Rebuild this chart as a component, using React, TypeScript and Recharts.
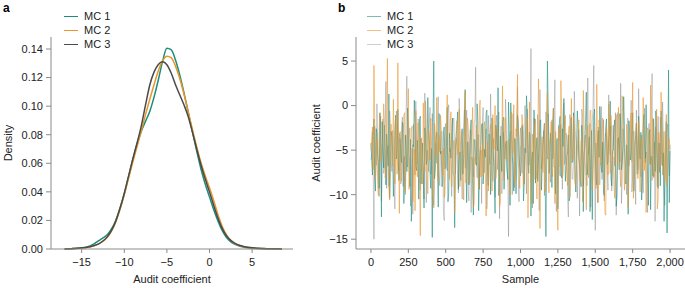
import { LineChart, Line, XAxis, YAxis } from "recharts"

// panel a: kernel density of the audit coefficient per chain
const densityX = [
  -17, -16.5, -16, -15.5, -15, -14.5, -14, -13.5, -13, -12.5, -12, -11.5, -11, -10.5, -10, -9.5, -9, -8.5,
  -8, -7.5, -7, -6.5, -6, -5.5, -5, -4.5, -4, -3.5, -3, -2.5, -2, -1.5, -1, -0.5, 0, 0.5, 1, 1.5, 2, 2.5,
  3, 3.5, 4, 4.5, 5, 5.5, 6, 6.5, 7, 7.5, 8, 8.5,
]
const mc1Density = [
  0.0, 0.0002, 0.0003, 0.0005, 0.0008, 0.0013, 0.0022, 0.0038, 0.0058, 0.0078, 0.01, 0.014, 0.02, 0.0285,
  0.0385, 0.0505, 0.0625, 0.0735, 0.0825, 0.0895, 0.0965, 0.1065, 0.1185, 0.1315, 0.1405, 0.1395, 0.1325,
  0.122, 0.1095, 0.096, 0.082, 0.0685, 0.056, 0.0455, 0.0365, 0.0275, 0.0195, 0.0128, 0.008, 0.005, 0.0032,
  0.0021, 0.0014, 0.0009, 0.0006, 0.0004, 0.0003, 0.0002, 0.0001, 0.0001, 0.0, 0.0,
]
const mc2Density = [
  0.0, 0.0001, 0.0003, 0.0005, 0.0007, 0.001, 0.0015, 0.0024, 0.0036, 0.0055, 0.008, 0.0125, 0.019, 0.0278,
  0.0382, 0.0495, 0.0608, 0.0718, 0.0828, 0.0942, 0.105, 0.1152, 0.1248, 0.1318, 0.135, 0.134, 0.1282,
  0.1195, 0.1085, 0.0962, 0.0835, 0.0715, 0.0605, 0.0512, 0.0428, 0.0338, 0.024, 0.0158, 0.0098, 0.006,
  0.0037, 0.0024, 0.0016, 0.0011, 0.0007, 0.0005, 0.0003, 0.0002, 0.0001, 0.0001, 0.0, 0.0,
]
const mc3Density = [
  0.0, 0.0001, 0.0003, 0.0005, 0.0008, 0.0011, 0.0016, 0.0024, 0.0036, 0.0056, 0.0085, 0.013, 0.0195, 0.0285,
  0.039, 0.051, 0.063, 0.0742, 0.0862, 0.101, 0.115, 0.124, 0.1292, 0.131, 0.129, 0.1232, 0.1152, 0.108,
  0.101, 0.0928, 0.0818, 0.07, 0.0588, 0.049, 0.04, 0.0305, 0.0215, 0.0143, 0.0092, 0.006, 0.0039, 0.0026,
  0.0018, 0.0012, 0.0008, 0.0006, 0.0004, 0.0003, 0.0002, 0.0001, 0.0001, 0.0,
]

// panel b: trace values read at samples 0, 10, ..., 2000
const traceStep = 10
const mc1Trace = [
  -4.2, -7.8, -1.5, -9.6, -3.1, -6.4, -0.8, -12.5, -5.3, -2.2, -8.9, -4.7, 1.3, -7.1, -3.6, -10.2, -2.8, -6.0, -0.4, -8.3,
  -5.5, -1.9, -11.0, -3.3, -7.4, -2.0, -9.1, -13.0, -4.4, 0.6, -6.8, -3.9, -10.5, -1.2, -5.9, -8.0, -2.5, -6.6, 0.9, -4.0,
  -9.3, -14.8, 5.0, -7.2, -3.0, -11.4, -1.0, -5.1, -8.6, -2.4, -6.9, -0.2, -9.8, -4.6, -2.9, -7.7, -13.7, -3.5, -0.7, -6.2,
  -8.4, -2.6, -5.8, 1.8, -10.9, -4.1, -7.0, -1.6, -9.0, -3.8, -6.3, 0.2, -11.8, -5.0, -2.1, -8.8, -4.9, -0.9, -7.5, -3.2,
  -10.0, -1.4, -6.1, -12.1, -3.4, 2.0, -8.1, -5.6, -1.8, -9.4, -4.3, -7.3, 0.4, -11.2, -2.7, -6.7, -3.7, -9.9, -1.1, -5.4,
  -7.9, -2.3, -10.7, -4.8, 1.1, -6.5, -3.0, -12.4, -5.2, -0.5, -8.7, -3.6, -6.0, -1.7, -9.5, -4.5, -2.0, -14.7, 5.0, -7.6,
  -3.1, -9.2, -0.3, -6.9, -4.2, -11.6, -1.9, -7.8, -2.6, 0.8, -8.5, -5.7, -3.3, -10.3, -1.3, -6.2, -4.0, -9.7, -0.6, -5.9,
  -8.2, -2.2, -11.9, -4.6, 1.5, -7.1, -3.5, -6.4, -12.8, -1.0, -5.3, -8.9, -2.8, -0.1, -7.0, -4.1, -10.1, -2.4, -6.6, -3.8,
  0.5, -9.0, -5.0, -1.6, -11.3, -3.9, -7.2, -2.1, -6.3, 1.0, -8.6, -4.4, -12.2, -2.9, -5.6, -0.8, -9.6, -3.4, -7.7, -1.2,
  -6.0, -10.6, -2.7, -4.9, 0.1, -8.0, -3.2, -11.7, -5.8, -1.5, -7.4, -2.5, -9.3, -4.3, -0.6, -6.8, -13.0, -3.6, -14.3, 4.0,
  -5.1,
]
const mc2Trace = [
  -5.0, -2.4, 4.5, -8.2, -3.7, -10.1, -0.9, -6.3, -4.1, -1.7, -7.6, 5.3, -9.4, -3.0, -5.8, 0.7, -8.8, -2.2, 4.8, -12.1,
  -4.5, -7.0, -1.1, -9.7, -3.5, 1.9, -6.1, -2.7, -10.8, -4.9, -0.6, -8.0, -3.3, -14.6, -5.6, 0.3, -7.4, -2.0, -9.9, -4.2,
  -1.4, -6.7, -11.5, -3.1, 0.9, -8.5, -5.2, -2.5, -7.8, -10.3, -3.9, 1.2, -6.0, -1.9, -9.1, -4.7, -12.0, -2.8, -5.5, -0.4,
  -7.3, -3.6, -10.6, 1.6, -5.9, -2.3, -8.7, -4.4, -0.2, -11.1, -6.5, -3.0, -9.3, 0.6, -5.1, -7.9, -1.8, -12.4, -4.0, -6.8,
  -2.1, -9.6, -4.8, 0.0, -7.2, -3.4, -11.3, -5.7, 2.2, -8.4, -1.3, -6.2, -3.8, -10.0, -0.7, -5.3, -8.9, -2.6, 3.5, -7.1,
  -4.6, -1.0, -9.0, -5.9, -2.9, -12.6, 0.4, -6.6, -3.2, -8.3, -1.5, -10.5, 3.0, -13.8, -4.3, -7.5, -2.0, -5.4, 1.4, -9.8,
  -3.7, -6.9, -0.3, -11.0, -5.0, -14.0, -2.4, 2.8, -8.1, -4.5, -1.1, -7.7, -3.3, -10.2, 0.8, -6.0, -2.8, -9.2, -5.2, -1.6,
  -8.6, -3.9, 1.7, -6.4, -11.7, -2.2, -5.5, -0.5, -9.5, -4.1, -7.0, 2.4, -10.9, -3.0, -6.3, -1.4, -8.0, -12.3, -4.6, 0.2,
  -7.6, -2.7, -5.8, -10.4, -1.0, -6.7, -3.5, -9.1, 1.1, -4.8, -7.9, -2.1, -11.4, -5.1, -0.8, 2.6, -8.8, -3.8, -6.1, -1.7,
  -9.7, -4.2, 0.9, -7.3, -12.0, -2.5, -5.6, 2.3, -8.4, -3.1, -6.9, -0.4, -10.6, -4.5, 1.5, -7.8, -2.9, -5.3, -9.0, -3.6,
  -4.9,
]
const mc3Trace = [
  -6.1, -2.9, -15.0, -4.6, 0.2, -8.3, -3.4, -10.7, -1.5, -6.9, 2.7, -5.2, -9.1, -2.0, -7.4, -4.0, -11.6, -0.6, -5.8, -3.1,
  -8.8, -1.3, -6.2, -10.0, 3.3, -4.9, -2.5, -7.9, -12.2, -3.8, 0.5, -6.6, -1.8, -9.5, -4.4, -7.1, 1.4, -10.9, -5.5, -2.2,
  -7.7, -0.9, -11.2, -4.2, -6.5, 1.0, -9.0, -3.0, -5.9, -12.9, -2.0, -7.3, 0.1, -4.8, -10.2, -1.6, -6.0, -3.6, -8.7, 0.8,
  -5.0, -10.5, -2.8, -7.0, -0.5, -9.7, -4.0, -12.0, -6.3, -1.9, 4.3, -8.1, -3.3, -5.4, -11.0, -0.2, -7.5, -2.6, -9.3, -4.6,
  1.3, -6.8, -3.7, -10.3, -1.1, -5.6, -12.7, -2.3, -8.0, -4.1, 0.7, -7.0, -14.7, -3.2, -6.1, -0.9, -9.2, -5.0, 2.1, -10.8,
  -2.5, -7.6, -4.7, 0.0, -9.9, -3.5, -6.4, 6.4, -11.5, -1.4, -5.3, -8.2, -2.9, 1.8, -7.1, -4.3, -10.1, -0.7, -6.0, -3.0,
  -8.6, -1.6, -5.7, 2.9, -11.9, -4.5, -7.4, -2.1, -9.4, 0.3, -6.2, -3.9, -12.5, -1.0, -5.1, -8.3, 1.6, -4.0, -10.4, -2.7,
  -6.5, -0.4, -9.0, -3.4, -7.7, 3.1, -5.0, -11.4, -1.8, 4.5, -14.0, -6.0, -2.4, -8.9, -0.1, -4.9, -10.7, -3.1, -7.2, 1.2,
  -5.5, -9.6, -2.2, -6.8, -12.3, -0.8, -4.4, 2.5, -8.5, -3.6, -6.1, -10.0, -1.5, -5.8, 0.6, -7.9, -2.9, -11.1, -4.2, 1.9,
  -7.0, -3.3, -9.8, -0.3, -5.2, -12.0, -2.0, -6.6, 3.6, -8.1, -13.0, -4.0, -1.2, -7.5, -3.5, 0.4, -9.1, -5.7, -2.4, -6.3,
  -4.4,
]

// and at samples 5, 15, ..., 1995
const mc1TraceMid = [
  -6.2, -3.4, -8.1, -2.6, -5.7, -9.3, -4.0, -1.8, -7.0, -4.9, -3.2, -6.8, -10.4, -2.9, -5.3, -7.6, -1.1, -4.5, -8.4, -3.7,
  -6.4, -2.1, -7.9, -5.0, -0.3, -6.9, -3.8, -9.8, -4.6, -2.4, -7.3, -5.6, -1.5, -8.8, -4.2, -11.5, -3.0, -6.1, -2.7, -7.5,
  -4.8, -1.9, -8.2, -3.6, -6.6, -0.9, -5.4, -9.1, -2.8, -7.1, -4.3, -10.8, -3.1, -5.9, -1.4, -7.8, -4.7, -2.3, -9.4, -5.2,
  -3.5, -7.7, -1.0, -6.0, -4.1, -8.9, -2.5, -5.5, -12.3, -3.9, -6.7, -1.7, -8.0, -4.4, -2.0, -7.2, -5.8, -0.5, -9.0, -3.3,
  -6.3, -4.6, -8.6, -2.2, -5.1, -10.1, -3.4, -7.4, -1.3, -6.5, -4.0, -8.3, -2.7, 0.3, -5.7, -9.6, -3.8, -6.2, -1.8, -7.0,
  -4.9, -2.9, -8.7, -5.3, -0.7, -7.6, -3.6, -6.1, -11.0, -2.3, -5.0, -8.5, -4.2, -1.6, -6.8, -3.1, -9.2, -5.6, 0.0, -7.3,
  -4.4, -2.0, -6.9, -9.9, -3.7, -5.9, -1.2, -8.1, -4.6, -2.6, -7.1, -5.2, -10.7, -3.0, -6.4, -0.8, -8.4, -4.1, -2.4, -6.6,
  -9.1, -3.5, -5.4, -1.9, -7.8, -4.8, -11.9, -2.8, -6.0, -0.4, -8.0, -3.9, -5.8, -2.1, -7.5, -9.7, -4.3, -1.5, -6.3, -3.2,
  -8.2, -5.1, -2.5, -6.7, -10.3, -3.6, -0.9, -7.2, -4.7, -2.2, -8.8, -5.5, -1.7, -6.1, -3.4, -9.5, -4.9, -2.0, -7.6, -5.0,
  -3.0, -8.6, -1.0, -6.4, -4.5, -11.2, -2.7, -5.7, -7.9, -3.9, -0.6, -6.9, -4.2, -9.0, -2.4, -5.3, -8.3, -1.8, -6.0, -10.9,
]
const mc2TraceMid = [
  -3.9, -7.2, -1.6, -5.8, -9.0, -2.7, -6.3, -4.4, 0.2, -8.1, -3.5, -5.9, -10.6, -2.1, -6.8, -4.0, -1.3, -7.7, -5.1, -2.9,
  -8.5, -4.7, -0.8, -6.4, -3.2, -9.4, -5.5, -2.3, -7.5, -11.8, -4.1, -1.9, -6.9, -3.6, -8.8, -5.3, 0.5, -7.0, -2.8, -6.1,
  -4.2, -9.8, -2.0, -5.7, -7.8, -3.3, -1.1, -6.6, -4.8, -10.0, -2.6, -5.2, -8.3, -0.7, -6.0, -3.9, -7.4, -1.7, -5.5, -9.1,
  -2.9, -6.5, -4.3, -8.7, -1.4, -5.0, -7.1, -3.1, -11.4, -5.8, -2.2, -6.2, -0.3, -8.0, -4.6, -2.5, -7.3, -5.4, -9.6, -3.0,
  -6.7, -1.0, -4.9, -8.2, -2.4, -5.6, -10.9, -3.7, -7.0, -1.5, -6.1, -4.0, -8.9, -2.0, -5.3, 0.1, -7.6, -3.4, -6.4, -9.3,
  -4.5, -2.2, -7.9, -5.1, -1.3, -6.6, -3.8, -11.1, -4.9, -2.6, -8.4, -6.0, -0.9, -7.2, -3.5, -5.7, -9.7, -2.8, -6.3, -4.1,
  -1.8, -8.0, -5.2, -2.9, -10.2, -4.6, -6.9, -0.4, -7.7, -3.3, -5.5, -9.0, -2.3, -6.2, -4.4, -1.2, -8.6, -5.9, -3.1, -7.4,
  -4.0, -10.8, -2.1, -6.5, -3.7, -8.1, -0.6, -5.4, -7.0, -2.7, -9.3, -4.8, -1.6, -6.7, -3.9, -5.0, -12.1, -2.4, -7.8, -4.3,
  -1.1, -6.0, -8.9, -3.2, -5.6, -0.2, -7.1, -4.7, -2.5, -9.5, -5.8, -3.0, -7.5, -1.9, -6.3, -10.4, -4.1, -2.0, -8.2, -5.1,
  -3.6, -7.3, -0.8, -5.9, -9.2, -2.9, -6.6, -4.4, -1.4, -8.0, -5.3, -11.6, -3.0, -6.9, -2.2, -4.8, -8.5, -1.0, -6.1, -3.8,
]
const mc3TraceMid = [
  -5.4, -8.0, -2.3, -6.7, -3.9, -10.2, -1.2, -5.9, -7.6, -3.0, -9.3, -4.5, -0.6, -6.2, -2.8, -8.7, -5.1, -1.9, -7.3, -4.2,
  -2.6, -9.1, -5.7, -0.9, -6.9, -3.4, -11.3, -4.8, -2.1, -7.8, -5.3, -1.5, -8.4, -3.7, -6.0, -10.5, -2.4, -5.0, -7.4, -0.2,
  -6.5, -3.2, -8.9, -4.4, -1.7, -7.1, -5.6, -2.9, -12.0, -4.0, -6.8, -0.8, -5.2, -8.2, -3.5, -1.4, -7.7, -4.7, -9.8, -2.2,
  -6.1, -3.8, -0.5, -7.0, -4.9, -10.7, -2.7, -5.8, -8.0, -1.6, -6.4, -3.3, -9.4, -5.0, -2.0, -7.5, -4.3, -11.6, -1.1, -6.6,
  -3.6, -8.5, -5.5, -2.5, -7.2, -0.7, -4.6, -9.9, -3.0, -6.0, -1.8, -8.1, -5.3, -2.9, -10.0, -4.1, -6.9, -1.3, -7.7, -3.9,
  -5.6, -2.1, -8.8, -4.3, -0.4, -6.7, -3.4, -9.6, -5.0, -2.6, -7.3, -1.0, -11.8, -4.6, -6.2, -2.8, -8.6, -5.2, -0.9, -7.0,
  -3.7, -6.0, -1.5, -9.2, -4.7, -2.2, -7.9, -5.4, -0.6, -6.6, -3.1, -10.3, -4.4, -1.9, -8.2, -5.7, -2.5, -7.1, -3.8, -12.4,
  -4.9, -1.2, -6.9, -3.3, -9.0, -5.5, -2.0, -7.6, -0.3, -6.0, -4.2, -10.9, -2.7, -5.9, -8.3, -1.6, -6.5, -3.6, -9.5, -4.8,
  -2.3, -7.4, -5.1, -0.8, -8.7, -3.9, -6.3, -11.0, -2.6, -5.0, -7.8, -1.4, -6.8, -4.0, -9.7, -2.9, -5.6, -0.5, -7.2, -3.5,
  -8.0, -4.6, -1.7, -6.1, -10.6, -3.2, -5.3, -0.9, -7.5, -4.1, -2.4, -9.1, -5.8, -1.3, -6.7, -3.4, -11.2, -4.7, -2.1, -7.9,
]

const seriesNames = ["MC 1", "MC 2", "MC 3"]
const densityTicksX = [-15, -10, -5, 0, 5]
const densityTicksY = [0, 0.02, 0.04, 0.06, 0.08, 0.1, 0.12, 0.14]
const traceTicksX = [0, 250, 500, 750, 1000, 1250, 1500, 1750, 2000]
const traceTicksY = [-15, -10, -5, 0, 5]

const colors = ["#1d8c7c", "#e8962c", "#4a4a4a"]
const traceOpacity = [0.58, 0.58, 0.28]
const axisGray = "#8a8a8a"
const ink = "#222"
const font = '"Liberation Sans", Arial, Helvetica, sans-serif'

const densityData = densityX.map((x, i) => ({
  x,
  mc1: mc1Density[i],
  mc2: mc2Density[i],
  mc3: mc3Density[i],
}))

// merge the two read-off lists in sample order
const traceData: { sample: number; mc1: number; mc2: number; mc3: number }[] = []
mc1Trace.forEach((v, i) => {
  traceData.push({ sample: i * traceStep, mc1: v, mc2: mc2Trace[i], mc3: mc3Trace[i] })
  if (i < mc1TraceMid.length) {
    traceData.push({
      sample: i * traceStep + traceStep / 2,
      mc1: mc1TraceMid[i],
      mc2: mc2TraceMid[i],
      mc3: mc3TraceMid[i],
    })
  }
})

const minus = (v: number) => String(v).replace("-", "\u2212")
const thousands = (v: number) => v.toLocaleString("en-US")

const tick = { fill: ink, fontSize: 11 }
const axisLine = { stroke: axisGray, strokeWidth: 1 }

// legend drawn as plain html so recharts does not shrink the plot for it
function SeriesLegend({ left, faded }: { left: number; faded: boolean }) {
  return (
    <div style={{ position: "absolute", left, top: 9, fontSize: 11, lineHeight: "14px", color: ink }}>
      {seriesNames.map((name, i) => (
        <div key={name} style={{ display: "flex", alignItems: "center" }}>
          <span
            style={{
              display: "inline-block",
              width: 14,
              borderTop: `${faded ? 1 : 1.5}px solid ${colors[i]}`,
              opacity: faded ? traceOpacity[i] : 1,
              marginRight: 6,
            }}
          />
          {name}
        </div>
      ))}
    </div>
  )
}

function PanelTag({ text, left }: { text: string; left: number }) {
  return (
    <div style={{ position: "absolute", left, top: 1, fontSize: 12, fontWeight: 700, color: "#000" }}>
      {text}
    </div>
  )
}

export default function App() {
  return (
    <div style={{ position: "absolute", left: 0, top: 0, width: 685, height: 288, background: "#fff", fontFamily: font }}>
      <div style={{ position: "absolute", left: 0, top: 0 }}>
        <LineChart width={300} height={288} data={densityData} margin={{ top: 37, right: 7, bottom: 0, left: 0 }}>
          <XAxis
            type="number"
            dataKey="x"
            domain={[-18.6, 9.8]}
            ticks={densityTicksX}
            tickFormatter={minus}
            tick={tick}
            axisLine={axisLine}
            tickLine={axisLine}
            tickSize={4}
            tickMargin={5}
            height={39}
            label={{ value: "Audit coefficient", position: "insideBottom", offset: 5, style: { fill: ink, fontSize: 11 } }}
          />
          <YAxis
            type="number"
            domain={[0, 0.1484]}
            ticks={densityTicksY}
            tickFormatter={(v: number) => v.toFixed(2)}
            tick={tick}
            axisLine={axisLine}
            tickLine={axisLine}
            tickSize={5}
            tickMargin={3}
            width={51}
            label={{ value: "Density", angle: -90, position: "insideLeft", offset: 8, style: { textAnchor: "middle", fill: ink, fontSize: 11 } }}
          />
          <Line type="monotone" dataKey="mc1" name="MC 1" stroke={colors[0]} strokeWidth={1.5} dot={false} activeDot={false} isAnimationActive={false} />
          <Line type="monotone" dataKey="mc2" name="MC 2" stroke={colors[1]} strokeWidth={1.5} dot={false} activeDot={false} isAnimationActive={false} />
          <Line type="monotone" dataKey="mc3" name="MC 3" stroke={colors[2]} strokeWidth={1.5} dot={false} activeDot={false} isAnimationActive={false} />
        </LineChart>
      </div>

      <div style={{ position: "absolute", left: 300, top: 0 }}>
        <LineChart width={385} height={288} data={traceData} margin={{ top: 37, right: 0, bottom: 0, left: 0 }}>
          <XAxis
            type="number"
            dataKey="sample"
            domain={[-100, 2100]}
            ticks={traceTicksX}
            tickFormatter={thousands}
            tick={tick}
            axisLine={axisLine}
            tickLine={axisLine}
            tickSize={4}
            tickMargin={5}
            height={39}
            label={{ value: "Sample", position: "insideBottom", offset: 5, style: { fill: ink, fontSize: 11 } }}
          />
          <YAxis
            type="number"
            domain={[-16.1, 7.7]}
            ticks={traceTicksY}
            tickFormatter={minus}
            tick={tick}
            axisLine={axisLine}
            tickLine={axisLine}
            tickSize={5}
            tickMargin={3}
            width={56}
            label={{ value: "Audit coefficient", angle: -90, position: "insideLeft", offset: 16, style: { textAnchor: "middle", fill: ink, fontSize: 11 } }}
          />
          <Line type="linear" dataKey="mc3" name="MC 3" stroke={colors[2]} strokeOpacity={traceOpacity[2]} strokeWidth={1} dot={false} activeDot={false} isAnimationActive={false} />
          <Line type="linear" dataKey="mc1" name="MC 1" stroke={colors[0]} strokeOpacity={traceOpacity[0]} strokeWidth={1} dot={false} activeDot={false} isAnimationActive={false} />
          <Line type="linear" dataKey="mc2" name="MC 2" stroke={colors[1]} strokeOpacity={traceOpacity[1]} strokeWidth={1} dot={false} activeDot={false} isAnimationActive={false} />
        </LineChart>
      </div>

      <SeriesLegend left={64} faded={false} />
      <SeriesLegend left={367} faded={true} />
      <PanelTag text="a" left={3} />
      <PanelTag text="b" left={338} />
    </div>
  )
}
